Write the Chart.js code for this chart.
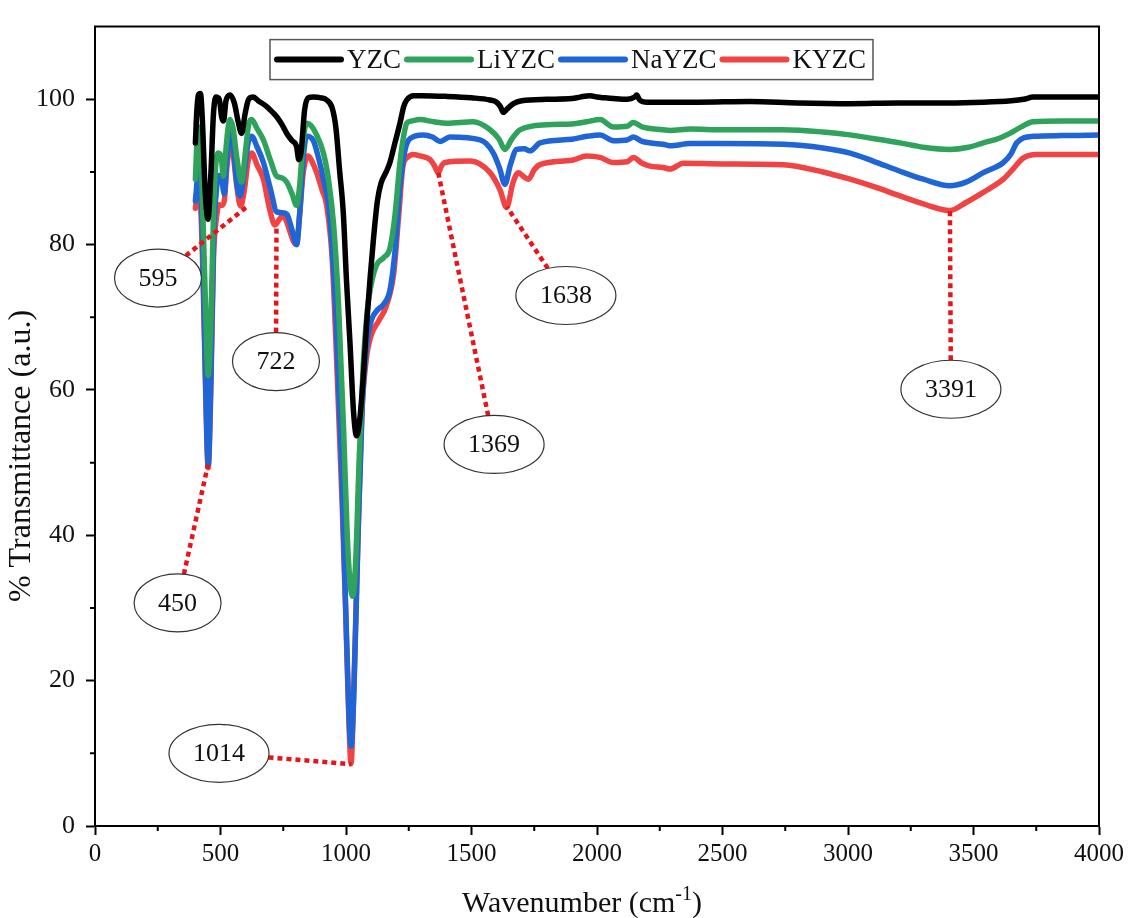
<!DOCTYPE html>
<html>
<head>
<meta charset="utf-8">
<script src="https://cdn.jsdelivr.net/npm/chart.js@4.4.0/dist/chart.umd.min.js"></script>
<style>
  html, body { margin: 0; padding: 0; background: #fff; }
  #wrap { width: 1131px; height: 918px; }
</style>
</head>
<body>
<div id="wrap"><canvas id="ftirChart" width="1131" height="918"></canvas></div>
<script>
// series names (legend order) and colours
const seriesNames = ["YZC", "LiYZC", "NaYZC", "KYZC"];
const seriesColors = ["#000000", "#2fa35c", "#1f65d6", "#f04343"];

// [wavenumber (cm-1), % transmittance]
const YZC = [[400, 94], [405, 98], [412, 100.6], [420, 100.8], [428, 97], [438, 88], [450, 83.5], [462, 90], [472, 98],
  [482, 100.3], [495, 100], [505, 97.5], [512, 97], [522, 99.8], [538, 100.6], [555, 99.5], [570, 97], [584, 95.3],
  [598, 98], [612, 100], [631, 100.3], [650, 99.8], [684, 99], [705, 98.3], [724, 97.6], [745, 96.5], [764, 95.3],
  [785, 94.3], [803, 93.5], [812, 91.7], [822, 93], [835, 98.5], [850, 100.2], [870, 100.3], [900, 100.2], [923, 99.9],
  [945, 98.8], [960, 96], [975, 90], [989, 84.5], [1002, 75], [1016, 66.4], [1030, 57], [1042, 53.7], [1055, 56],
  [1069, 61.9], [1082, 69], [1096, 75.4], [1110, 81], [1125, 86], [1140, 88.5], [1160, 90], [1175, 91.3], [1195, 94],
  [1215, 96.7], [1230, 99], [1242, 99.9], [1270, 100.5], [1300, 100.5], [1400, 100.4], [1500, 100.2], [1574, 99.9],
  [1600, 99.6], [1615, 99], [1627, 98.2], [1640, 98.6], [1667, 99.4], [1700, 99.8], [1800, 100], [1900, 100.1],
  [1932, 100.3], [1972, 100.5], [2000, 100.3], [2030, 100.2], [2065, 100.1], [2120, 100], [2150, 100.3], [2158, 100.6],
  [2170, 99.9], [2200, 99.6], [2400, 99.6], [2610, 99.7], [2800, 99.5], [3008, 99.4], [3200, 99.5], [3400, 99.5],
  [3539, 99.6], [3650, 99.8], [3700, 100], [3738, 100.3], [3850, 100.3], [4000, 100.3]];

const LiYZC = [[400, 89], [406, 94], [412, 96.2], [420, 94], [430, 84], [440, 72], [451, 62], [462, 70], [472, 84],
  [480, 90.5], [491, 92.6], [503, 92], [511, 89.4], [520, 92.5], [530, 96], [538, 97.2], [550, 96], [565, 92],
  [584, 88.6], [600, 93], [612, 96.5], [624, 97.2], [645, 96], [671, 94.4], [700, 91.5], [724, 89.4], [745, 89.2],
  [764, 88.6], [785, 87], [803, 85.4], [815, 88], [830, 94.5], [843, 96.7], [860, 96.4], [880, 95.3], [910, 92.6],
  [930, 89], [950, 83], [970, 72], [990, 55], [1005, 40], [1015, 34], [1026, 31.6], [1038, 36], [1052, 50], [1068, 63],
  [1085, 71], [1100, 74.5], [1122, 77.2], [1150, 78.2], [1175, 79.5], [1195, 84], [1215, 91.3], [1230, 95], [1242, 96.7],
  [1260, 97], [1295, 97.2], [1350, 96.9], [1401, 96.7], [1507, 96.9], [1574, 95.8], [1610, 94.5], [1633, 93.1],
  [1660, 94.5], [1693, 95.8], [1800, 96.5], [1900, 96.6], [1959, 96.9], [2012, 97.2], [2065, 96.2], [2120, 96.3],
  [2145, 96.8], [2180, 96.2], [2264, 95.8], [2291, 95.7], [2371, 95.9], [2500, 95.8], [2742, 95.8], [2900, 95.5],
  [3008, 95.1], [3100, 94.6], [3207, 94], [3300, 93.4], [3406, 93.1], [3480, 93.4], [3539, 94], [3600, 94.6],
  [3645, 95.3], [3690, 96.2], [3738, 96.9], [3850, 97], [4000, 97]];

const NaYZC = [[400, 86], [405, 88], [412, 91], [420, 89], [430, 78], [440, 62], [451, 49.7], [462, 62], [472, 80],
  [485, 88], [495, 89.5], [505, 89], [515, 87], [525, 91.5], [538, 95.4], [550, 94], [563, 89], [578, 86.7], [595, 90],
  [610, 94], [624, 94.9], [645, 93.5], [671, 91.3], [700, 87.5], [724, 84.5], [745, 84.4], [764, 84.2], [785, 82],
  [803, 80], [815, 84], [830, 92], [843, 94.9], [870, 94.3], [890, 92], [910, 89], [935, 84], [960, 70], [980, 52],
  [998, 31], [1010, 17], [1020, 11], [1032, 19], [1048, 40], [1065, 58], [1082, 66], [1100, 69.5], [1125, 71],
  [1150, 71.8], [1175, 73.7], [1195, 79], [1215, 88], [1235, 93], [1255, 94.6], [1308, 95.1], [1345, 94.8],
  [1375, 94.2], [1414, 94.8], [1534, 94.4], [1587, 92.6], [1612, 90.5], [1633, 88.3], [1655, 91], [1680, 93.1],
  [1710, 93.2], [1733, 92.9], [1773, 94], [1900, 94.5], [1959, 94.9], [2012, 95.1], [2065, 94.3], [2120, 94.4],
  [2145, 94.8], [2180, 94.2], [2264, 93.8], [2291, 93.6], [2371, 93.9], [2500, 93.9], [2742, 93.8], [2900, 93.3],
  [3008, 92.6], [3100, 91.5], [3207, 90.1], [3300, 89], [3406, 88.1], [3470, 88.6], [3539, 89.9], [3619, 91.3],
  [3650, 92.5], [3672, 94], [3738, 94.9], [3850, 95], [4000, 95.1]];

const KYZC = [[400, 85], [406, 86.5], [412, 88], [420, 86], [430, 76], [440, 61], [451, 49.3], [462, 61], [472, 78],
  [485, 84], [495, 85.5], [505, 85.4], [515, 86], [525, 90.5], [538, 93.5], [550, 92.5], [565, 88], [580, 85.3],
  [595, 87.5], [610, 91.5], [624, 92.6], [645, 91], [671, 89], [695, 85], [717, 82.7], [735, 83.5], [750, 84],
  [770, 82.5], [790, 80.5], [803, 80], [815, 84], [830, 90], [850, 92.2], [868, 91.2], [883, 89.9], [905, 87.5],
  [923, 85.4], [945, 78], [965, 62], [985, 44], [1000, 28], [1012, 14], [1020, 8.6], [1032, 20], [1048, 40], [1062, 56],
  [1080, 64], [1100, 67.5], [1130, 69.5], [1160, 71.5], [1190, 76], [1210, 84], [1227, 90.8], [1245, 92], [1267, 92.4],
  [1295, 92.2], [1335, 91.7], [1350, 91], [1368, 89.9], [1380, 90.8], [1394, 91.3], [1494, 91.5], [1574, 89.9],
  [1614, 87.5], [1640, 85.1], [1665, 88.5], [1687, 89.9], [1710, 89.3], [1727, 89], [1750, 90.3], [1773, 91],
  [1900, 91.6], [1959, 92.2], [2012, 92], [2065, 91.3], [2120, 91.4], [2145, 92], [2180, 91.2], [2211, 90.8],
  [2264, 90.6], [2291, 90.4], [2344, 91.2], [2500, 91.1], [2742, 91], [2900, 90], [3008, 89], [3100, 88], [3207, 86.7],
  [3300, 85.6], [3406, 84.7], [3470, 85.8], [3539, 87.2], [3619, 89], [3660, 90.5], [3698, 91.9], [3751, 92.4],
  [3850, 92.4], [4000, 92.4]];

// peak call-outs: label text, the band it points at, where the oval sits (data units)
const peakLabels = ["595", "722", "450", "1014", "1369", "1638", "3391"];
const peakPoints = [[605, 85.2], [723, 82.5], [450, 49.7], [1022, 8.5], [1367, 90], [1641, 85.2], [3406, 85]];
const labelPoints = [[251, 75.4], [721, 63.9], [329, 30.7], [494, 10], [1590, 52.5], [1876, 73], [3410, 60.1]];

const xTitle = ["Wavenumber (cm", "-1", ")"];
const yTitle = "% Transmittance (a.u.)";

const serif = '"Liberation Serif", "Times New Roman", serif';
const allSeries = [YZC, LiYZC, NaYZC, KYZC];

const framePlugin = {
    id: "frame",
    afterDraw(chart) {
        const ctx = chart.ctx;
        const { left, right, top, bottom } = chart.chartArea;
        const xs = chart.scales.x, ys = chart.scales.y;
        ctx.save();

        // top and right border
        ctx.strokeStyle = "#000";
        ctx.lineWidth = 2;
        ctx.beginPath();
        ctx.moveTo(left - 1, top);
        ctx.lineTo(right, top);
        ctx.lineTo(right, bottom + 1);
        ctx.stroke();

        // minor ticks half way between major ones
        ctx.lineWidth = 2;
        ctx.beginPath();
        for (let i = 0; i < xs.ticks.length - 1; i++) {
            const px = xs.getPixelForValue((xs.ticks[i].value + xs.ticks[i + 1].value) / 2);
            ctx.moveTo(px, bottom);
            ctx.lineTo(px, bottom + 5);
        }
        const yMajor = ys.ticks.filter(t => t.value <= 100);
        for (let i = 0; i < yMajor.length - 1; i++) {
            const py = ys.getPixelForValue((yMajor[i].value + yMajor[i + 1].value) / 2);
            ctx.moveTo(left, py);
            ctx.lineTo(left - 5, py);
        }
        ctx.stroke();

        // peak call-outs
        ctx.font = "26px " + serif;
        peakLabels.forEach((txt, i) => {
            const cx = xs.getPixelForValue(labelPoints[i][0]);
            const cy = ys.getPixelForValue(labelPoints[i][1]);
            const tx = xs.getPixelForValue(peakPoints[i][0]);
            const ty = ys.getPixelForValue(peakPoints[i][1]);
            const rx = ctx.measureText(txt).width / 2 + 24;
            const ry = 29;
            const dx = tx - cx, dy = ty - cy;
            const t = 1 / Math.sqrt((dx / rx) ** 2 + (dy / ry) ** 2);

            ctx.strokeStyle = "#e8141c";
            ctx.lineWidth = 4.5;
            ctx.setLineDash([5, 4]);
            ctx.beginPath();
            ctx.moveTo(cx + dx * t, cy + dy * t);
            ctx.lineTo(tx, ty);
            ctx.stroke();
            ctx.setLineDash([]);

            ctx.fillStyle = "#fff";
            ctx.strokeStyle = "#333";
            ctx.lineWidth = 1.2;
            ctx.beginPath();
            ctx.ellipse(cx, cy, rx, ry, 0, 0, Math.PI * 2);
            ctx.fill();
            ctx.stroke();
            ctx.fillStyle = "#111";
            ctx.textAlign = "center";
            ctx.textBaseline = "middle";
            ctx.fillText(txt, cx, cy + 1);
        });

        // legend box
        ctx.font = "27px " + serif;
        const lineLen = 70, gap = 3, pad = 4;
        let w = pad * 2;
        seriesNames.forEach(n => { w += lineLen + gap * 2 + ctx.measureText(n).width; });
        const lx = left + 175, ly = top + 13, lh = 40;
        ctx.strokeStyle = "#555";
        ctx.lineWidth = 1.5;
        ctx.strokeRect(lx, ly, w, lh);
        let x = lx + pad;
        const my = ly + lh / 2;
        seriesNames.forEach((n, i) => {
            ctx.strokeStyle = seriesColors[i];
            ctx.lineWidth = 6;
            ctx.lineCap = "round";
            ctx.beginPath();
            ctx.moveTo(x + 3, my);
            ctx.lineTo(x + lineLen - 3, my);
            ctx.stroke();
            x += lineLen + gap;
            ctx.fillStyle = "#111";
            ctx.textAlign = "left";
            ctx.textBaseline = "middle";
            ctx.fillText(n, x, my + 1);
            x += ctx.measureText(n).width + gap;
        });

        // axis titles
        ctx.fillStyle = "#111";
        ctx.textBaseline = "alphabetic";
        ctx.textAlign = "left";
        ctx.font = "30px " + serif;
        const w0 = ctx.measureText(xTitle[0]).width;
        const w2 = ctx.measureText(xTitle[2]).width;
        ctx.font = "20px " + serif;
        const w1 = ctx.measureText(xTitle[1]).width;
        let sx = 582 - (w0 + w1 + w2) / 2;
        const base = bottom + 86;
        ctx.font = "30px " + serif;
        ctx.fillText(xTitle[0], sx, base);
        ctx.font = "20px " + serif;
        ctx.fillText(xTitle[1], sx + w0, base - 12);
        ctx.font = "30px " + serif;
        ctx.fillText(xTitle[2], sx + w0 + w1, base);

        ctx.translate(30, 456);
        ctx.rotate(-Math.PI / 2);
        ctx.font = "32px " + serif;
        ctx.textAlign = "center";
        ctx.fillText(yTitle, 0, 0);
        ctx.restore();
    }
};

const ctx = document.getElementById("ftirChart").getContext("2d");
new Chart(ctx, {
    type: "line",
    data: {
        datasets: seriesNames.map((name, i) => ({
            label: name,
            data: allSeries[i].map(([x, y]) => ({ x, y })),
            borderColor: seriesColors[i],
            borderWidth: 5.5,
            pointRadius: 0,
            fill: false,
            cubicInterpolationMode: "monotone",
            borderJoinStyle: "round",
            borderCapStyle: "round"
        }))
    },
    options: {
        responsive: false,
        animation: false,
        layout: { padding: { top: 15, right: 32, left: 0, bottom: 0 } },
        plugins: { legend: { display: false }, tooltip: { enabled: false } },
        scales: {
            x: {
                type: "linear",
                min: 0,
                max: 4000,
                ticks: {
                    stepSize: 500,
                    color: "#111",
                    font: { family: serif, size: 25 },
                    padding: 4,
                    maxRotation: 0,
                    callback: v => String(v)
                },
                grid: { drawOnChartArea: false, tickLength: 9, tickWidth: 2, tickColor: "#000" },
                border: { color: "#000", width: 2 },
                afterFit: s => { s.height = 92; }
            },
            y: {
                min: 0,
                max: 110,
                ticks: {
                    stepSize: 20,
                    color: "#111",
                    font: { family: serif, size: 26 },
                    padding: 11,
                    callback: v => (v <= 100 ? String(v) : "")
                },
                grid: {
                    drawOnChartArea: false,
                    tickLength: 9,
                    tickWidth: 2,
                    tickColor: c => (c.tick && c.tick.value > 100 ? "rgba(0,0,0,0)" : "#000")
                },
                border: { color: "#000", width: 2 },
                afterFit: s => { s.width = 95; }
            }
        }
    },
    plugins: [framePlugin]
});
</script>
</body>
</html>
